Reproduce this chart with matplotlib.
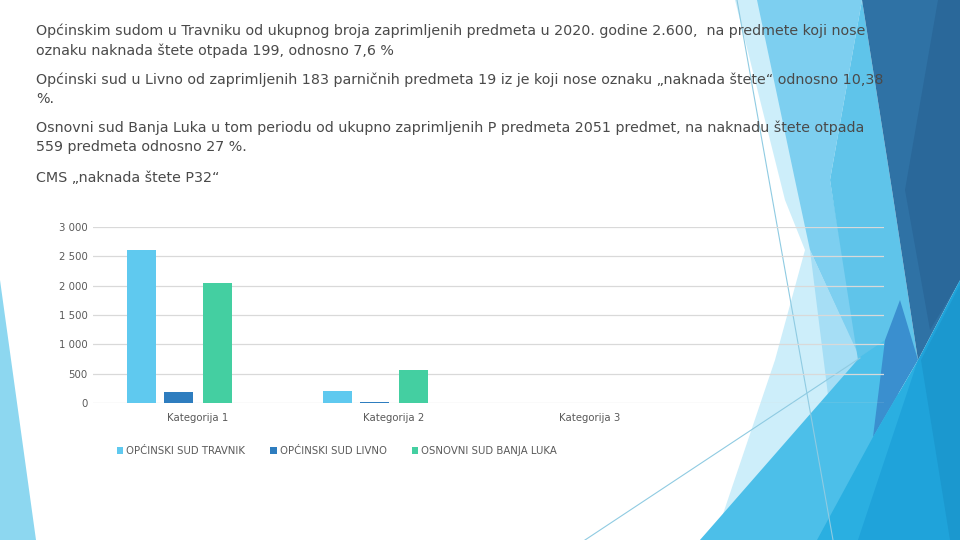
import numpy as np
import matplotlib
matplotlib.use("Agg")
from matplotlib import pyplot as plt
from matplotlib.patches import Polygon, Patch
from matplotlib.ticker import FuncFormatter

# data
categories = ["Kategorija 1", "Kategorija 2", "Kategorija 3"]
series_names = ["OPĆINSKI SUD TRAVNIK", "OPĆINSKI SUD LIVNO", "OSNOVNI SUD BANJA LUKA"]
travnik = [2600, 199, 0]
livno = [183, 19, 0]
banja_luka = [2051, 559, 0]
y_ticks = [0, 500, 1000, 1500, 2000, 2500, 3000]

paragraphs = [
    "Općinskim sudom u Travniku od ukupnog broja zaprimljenih predmeta u 2020. godine 2.600,  na predmete koji nose",
    "oznaku naknada štete otpada 199, odnosno 7,6 %",
    "Općinski sud u Livno od zaprimljenih 183 parničnih predmeta 19 iz je koji nose oznaku „naknada štete“ odnosno 10,38",
    "%.",
    "Osnovni sud Banja Luka u tom periodu od ukupno zaprimljenih P predmeta 2051 predmet, na naknadu štete otpada",
    "559 predmeta odnosno 27 %.",
    "CMS „naknada štete P32“",
]
line_y = [31, 51, 80, 99, 128, 147, 178]

bar_colors = ["#5fc9ef", "#2e7dbf", "#44cfa1"]

W, H = 960, 540
fig = plt.figure(figsize=(9.6, 5.4), dpi=100)
fig.patch.set_facecolor("white")

# background decoration (facet-like shapes)
bg = fig.add_axes([0, 0, 1, 1], zorder=0)
bg.set_xlim(0, W)
bg.set_ylim(H, 0)
bg.axis("off")

shapes = [
    ("#8dd7f0", [(0, 280), (0, 540), (36, 540)]),
    ("#cdeefa", [(735, 0), (760, 0), (840, 220), (875, 540), (700, 540), (722, 517),
                 (775, 360), (805, 250), (785, 200)]),
    ("#7dcff0", [(757, 0), (862, 0), (830, 180), (860, 360), (810, 250), (795, 180)]),
    ("#a6def5", [(810, 250), (860, 358), (828, 395)]),
    ("#5fc4ea", [(862, 0), (892, 190), (918, 360), (885, 360), (858, 360), (830, 180)]),
    ("#2f72a5", [(862, 0), (960, 0), (960, 280), (918, 360), (892, 190)]),
    ("#2a689a", [(938, 0), (960, 0), (960, 280), (930, 330), (905, 190)]),
    ("#4cbfe9", [(700, 540), (860, 357), (900, 330), (895, 540)]),
    ("#3a8fcf", [(900, 300), (918, 360), (873, 437), (885, 340)]),
    ("#2aafe1", [(817, 540), (873, 437), (918, 360), (960, 330), (960, 540)]),
    ("#1fa3da", [(858, 540), (918, 360), (960, 280), (960, 540)]),
    ("#1b98cf", [(950, 540), (921, 360), (960, 285), (960, 540)]),
]
for color, pts in shapes:
    bg.add_patch(Polygon(pts, closed=True, facecolor=color, edgecolor="none"))
bg.plot([737, 833], [0, 540], color="#8fcbe2", lw=0.8)
bg.plot([585, 860], [540, 358], color="#8fcbe2", lw=0.8)

# slide text
for txt, y in zip(paragraphs, line_y):
    fig.text(36 / W, 1 - y / H, txt, fontsize=10.3, color="#4a4a4a",
             ha="left", va="center", family="DejaVu Sans")

# chart
left, right, top, bottom = 93, 884, 227, 403
ax = fig.add_axes([left / W, 1 - bottom / H, (right - left) / W, (bottom - top) / H], zorder=2)
ax.set_facecolor("none")

x = np.arange(len(categories))
width = 0.148
offsets = [-0.286, -0.097, 0.102]
for vals, off, col in zip([travnik, livno, banja_luka], offsets, bar_colors):
    ax.bar(x + off, vals, width=width, color=col, zorder=3)

# four category slots on the axis, only three are labelled
ax.set_xlim(-0.533, 3.5)
ax.set_ylim(0, 3000)
ax.set_yticks(y_ticks)
ax.yaxis.set_major_formatter(FuncFormatter(lambda v, p: f"{int(v):,}".replace(",", " ")))
ax.set_xticks(x)
ax.set_xticklabels(categories)
ax.grid(axis="y", color="#d9d9d9", lw=0.9, zorder=1)
ax.tick_params(axis="both", length=0, labelsize=7.3, colors="#595959")
ax.tick_params(axis="y", pad=4)
ax.tick_params(axis="x", pad=7)
for s in ax.spines.values():
    s.set_visible(False)

handles = [Patch(facecolor=c, edgecolor="none") for c in bar_colors]
leg = fig.legend(handles, series_names, loc="center left",
                 bbox_to_anchor=(117 / W, 1 - 451 / H), ncol=3, frameon=False,
                 fontsize=7.3, handlelength=0.6, handleheight=0.6,
                 handletextpad=0.3, columnspacing=2.5, borderpad=0, borderaxespad=0)
for t in leg.get_texts():
    t.set_color("#595959")

fig.savefig("out.png", dpi=100)
